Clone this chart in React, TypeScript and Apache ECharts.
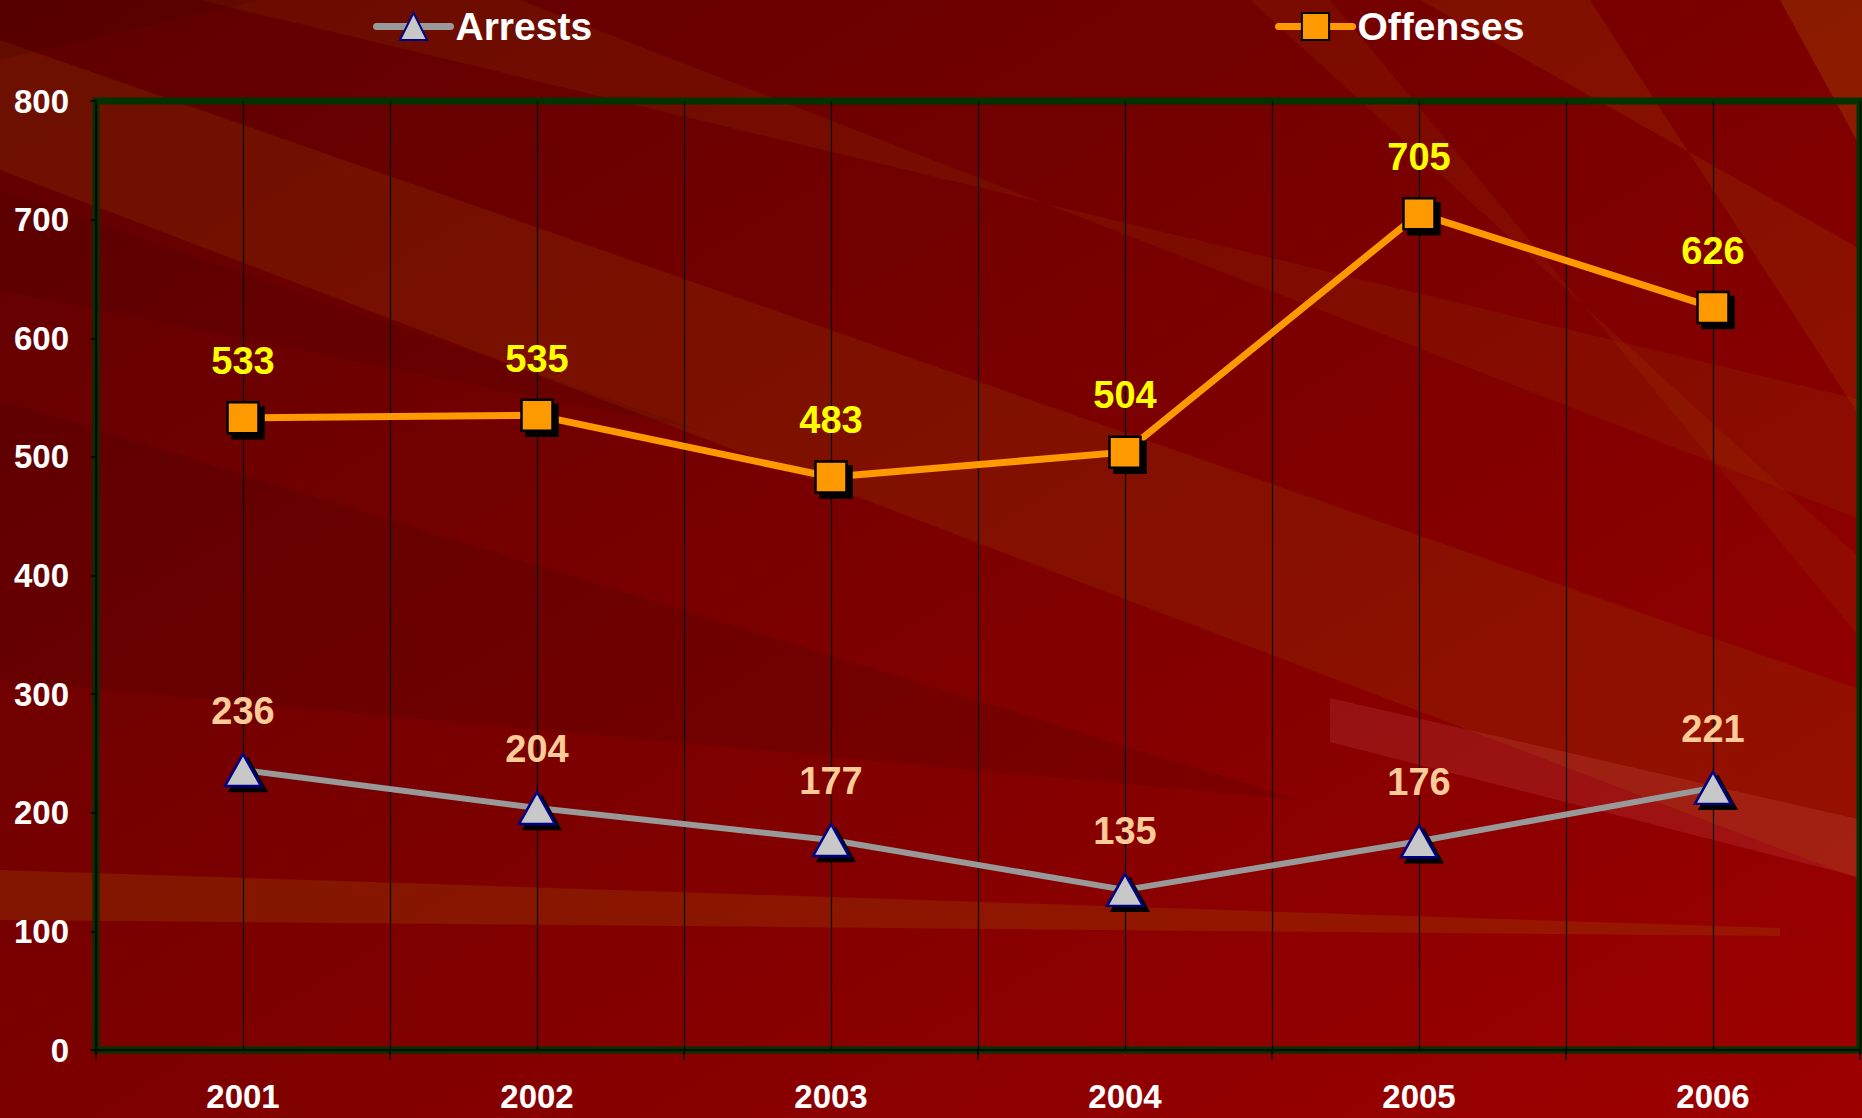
import React, { useEffect, useRef } from "react";
import * as echarts from "echarts";

const categories = ["2001", "2002", "2003", "2004", "2005", "2006"];
const arrests = [236, 204, 177, 135, 176, 221];
const offenses = [533, 535, 483, 504, 705, 626];
const yMin = 0;
const yMax = 800;
const yInterval = 100;

const FONT = 'Arial, "Liberation Sans", sans-serif';

export default function App() {
  const ref = useRef<HTMLDivElement>(null);
  useEffect(() => {
    document.body.style.margin = "0";
    if (!ref.current) return;
    const chart = echarts.init(ref.current, undefined, { renderer: "svg" });
    const band = (points: number[][], fill: string, opacity: number) => ({
      type: "polygon",
      silent: true,
      z: -10,
      shape: { points },
      style: { fill, opacity },
    });
    const legendCommon = {
      top: 2,
      itemWidth: 74,
      itemHeight: 34,
      itemGap: 0,
      textStyle: { color: "#ffffff", fontSize: 39, fontWeight: "bold", fontFamily: FONT },
      itemStyle: { shadowColor: "transparent", shadowOffsetX: 0, shadowOffsetY: 0 },
      lineStyle: { width: 7, cap: "round" },
    };
    const option: any = {
      animation: false,
      backgroundColor: {
        type: "linear",
        x: 0,
        y: 0,
        x2: 1,
        y2: 1,
        colorStops: [
          { offset: 0, color: "#5e0000" },
          { offset: 0.5, color: "#7c0000" },
          { offset: 1, color: "#9e0000" },
        ],
      },
      graphic: [
        band([[0, 40], [1862, 690], [1862, 880], [0, 170]], "#9a4a00", 0.22),
        band([[200, 0], [520, 0], [1862, 520], [1862, 400]], "#9a4a00", 0.16),
        band([[0, 400], [1300, 800], [0, 680]], "#300000", 0.15),
        band([[0, 190], [700, 430], [0, 290]], "#300000", 0.12),
        band([[1420, 0], [1590, 0], [1862, 420], [1862, 250]], "#a85000", 0.2),
        band([[1250, 0], [1330, 0], [1862, 640], [1862, 560]], "#a85000", 0.14),
        band([[1780, 0], [1862, 0], [1862, 150]], "#b05a00", 0.3),
        band([[0, 870], [1780, 928], [1780, 936], [0, 920]], "#a05000", 0.28),
        band([[1330, 698], [1862, 820], [1862, 878], [1330, 742]], "#ff9090", 0.12),
        band([[0, 0], [260, 0], [0, 60]], "#300000", 0.15),
      ],
      legend: [
        { ...legendCommon, data: ["Arrests"], left: 368 },
        { ...legendCommon, data: ["Offenses"], left: 1270 },
      ],
      grid: {
        left: 96,
        right: 2,
        top: 101,
        bottom: 68,
        show: true,
        borderColor: "#003300",
        borderWidth: 7,
        backgroundColor: "transparent",
        containLabel: false,
      },
      xAxis: {
        type: "category",
        data: categories,
        boundaryGap: true,
        axisLine: { show: true, lineStyle: { color: "#000000", width: 1.5 } },
        axisTick: { show: true, length: 10, lineStyle: { color: "#000000", width: 1.5 } },
        splitLine: { show: true, lineStyle: { color: "#000000", width: 1.2 } },
        axisLabel: {
          color: "#ffffff",
          fontSize: 33,
          fontWeight: "bold",
          fontFamily: FONT,
          margin: 30,
        },
      },
      yAxis: {
        type: "value",
        min: yMin,
        max: yMax,
        interval: yInterval,
        axisLine: { show: true, lineStyle: { color: "#000000", width: 1.5 } },
        axisTick: { show: true, length: 6, lineStyle: { color: "#000000", width: 1.5 } },
        splitLine: { show: false },
        axisLabel: {
          color: "#ffffff",
          fontSize: 33,
          fontWeight: "bold",
          fontFamily: FONT,
          margin: 27,
        },
      },
      series: [
        {
          name: "Arrests",
          type: "line",
          data: arrests,
          symbol: "triangle",
          symbolSize: [36, 32],
          lineStyle: { color: "#999999", width: 6 },
          itemStyle: {
            color: "#c8c8c8",
            borderColor: "#000080",
            borderWidth: 2.5,
            shadowColor: "#000000",
            shadowBlur: 0,
            shadowOffsetX: 5,
            shadowOffsetY: 5,
          },
          label: {
            show: true,
            position: "top",
            distance: 23,
            color: "#ffcc99",
            fontSize: 38,
            fontWeight: "bold",
            fontFamily: FONT,
          },
          z: 3,
        },
        {
          name: "Offenses",
          type: "line",
          data: offenses,
          symbol: "rect",
          symbolSize: 31,
          lineStyle: { color: "#ff9900", width: 7 },
          itemStyle: {
            color: "#ff9900",
            borderColor: "#000000",
            borderWidth: 2.5,
            shadowColor: "#000000",
            shadowBlur: 0,
            shadowOffsetX: 5,
            shadowOffsetY: 5,
          },
          label: {
            show: true,
            position: "top",
            distance: 21,
            color: "#ffff00",
            fontSize: 38,
            fontWeight: "bold",
            fontFamily: FONT,
          },
          markLine: {
            silent: true,
            symbol: ["none", "none"],
            label: { show: false },
            lineStyle: { color: "#000000", width: 1.2, type: "solid" },
            z: 1,
            data: categories.map((c) => ({ xAxis: c })),
          },
          z: 3,
        },
      ],
    };
    chart.setOption(option);
    return () => chart.dispose();
  }, []);
  return <div ref={ref} style={{ width: 1862, height: 1118 }} />;
}
